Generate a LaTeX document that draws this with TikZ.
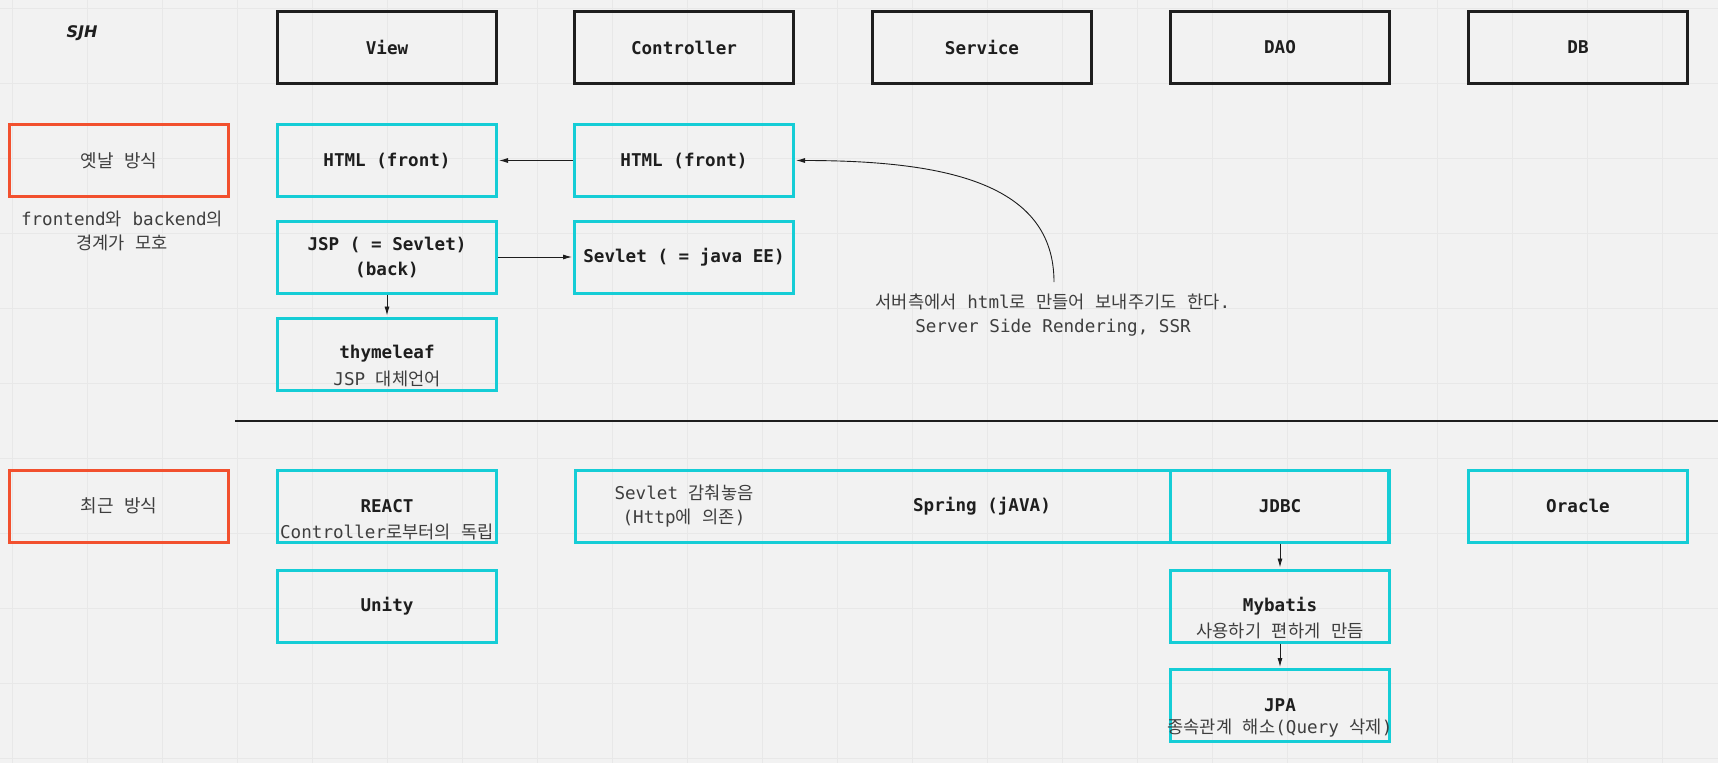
\documentclass[tikz,border=0pt]{standalone}
\usepackage{fontspec}
\setmainfont{DejaVu Sans Mono}
\newfontfamily\krfont{Noto Sans CJK KR}
\newfontfamily\sjhfont{DejaVu Sans}
\usetikzlibrary{arrows.meta}
\newcommand\kr[1]{{\krfont #1}}
\definecolor{bg}{RGB}{242,242,242}
\definecolor{gridc}{RGB}{232,232,232}
\definecolor{cyanb}{RGB}{21,205,214}
\definecolor{redb}{RGB}{242,80,46}
\definecolor{ink}{RGB}{30,30,30}
\definecolor{txt}{RGB}{62,62,62}
\begin{document}
\begin{tikzpicture}[x=1pt,y=-1pt,
  hdr/.style={draw=ink, line width=3pt, minimum width=219pt, minimum height=72pt, inner sep=0pt, font=\fontsize{17.6}{20}\selectfont\bfseries, text=ink},
  cbox/.style={draw=cyanb, line width=3pt, minimum width=219pt, minimum height=72pt, inner sep=0pt, align=center, font=\fontsize{17.6}{25}\selectfont\bfseries, text=ink},
  rbox/.style={draw=redb, line width=3pt, minimum width=219pt, minimum height=72pt, inner sep=0pt, font=\fontsize{18}{20}\selectfont, text=txt},
  sub/.style={font=\fontsize{17.6}{24}\selectfont, text=txt, inner sep=0pt, align=center},
  arr/.style={-{Latex[length=9pt,width=5pt]}, line width=0.9pt, draw=ink, shorten >=1pt}
]
\useasboundingbox (0,0) rectangle (1718,763);
\fill[bg] (0,0) rectangle (1718,763);
\foreach \x in {12,87,...,1712} \draw[gridc, line width=1pt] (\x,0) -- (\x,763);
\foreach \y in {8,83,...,758} \draw[gridc, line width=1pt] (0,\y) -- (1718,\y);

% signature
\node[font=\sjhfont\fontsize{16}{18}\selectfont\bfseries\itshape, text=ink] (sjh) at (82,33) {SJH};

% headers
\node[hdr] (hView) at (387,47.5) {View};
\node[hdr] (hCtrl) at (684,47.5) {Controller};
\node[hdr] (hSvc)  at (982,47.5) {Service};
\node[hdr] (hDao)  at (1280,47.5) {DAO};
\node[hdr] (hDb)   at (1578,47.5) {DB};

% old way
\node[rbox] (old) at (119,160.5) {\kr{옛날} \kr{방식}};
\node[sub] (oldnote) at (122,231) {frontend\kr{와} backend\kr{의}\\\kr{경계가} \kr{모호}};

\node[cbox] (viewA) at (387,160.5) {HTML (front)};
\node[cbox] (ctrlA) at (684,160.5) {HTML (front)};
\node[cbox] (jsp)   at (387,257) {JSP ( = Sevlet)\\(back)};
\node[cbox] (sev)   at (684,257) {Sevlet ( = java EE)};
\node[cbox] (thym)  at (387,354) {thymeleaf};
\node[sub] (thymsub) at (387,379) {JSP \kr{대체언어}};

\draw[arr] (ctrlA) -- (viewA);
\draw[arr] (jsp) -- (sev);
\draw[arr] (jsp) -- (thym);

\coordinate (ssr) at (1054,282);
\draw[arr] (ssr) .. controls (1054,185) and (950,160.5) .. (ctrlA.east);
\node[sub] (ssrtxt) at (1053,315.5) {\kr{서버측에서} html\kr{로} \kr{만들어} \kr{보내주기도} \kr{한다}.\\Server Side Rendering, SSR};

% divider
\coordinate (divL) at (235,421);
\coordinate (divR) at (1718,421);
\draw[ink, line width=1.8pt] (divL) -- (divR);

% new way
\node[rbox] (new) at (119,506) {\kr{최근} \kr{방식}};
\node[cbox] (react) at (387,506) {REACT};
\node[sub] (reactsub) at (387,532) {Controller\kr{로부터의} \kr{독립}};
\node[cbox] (unity) at (387,606) {Unity};

\node[cbox, minimum width=813pt] (spring) at (982,506) {Spring (jAVA)};
\node[sub] (springnote) at (684,506) {Sevlet \kr{감춰놓음}\\(Http\kr{에} \kr{의존})};
\node[cbox] (jdbc) at (1280,506) {JDBC};
\node[cbox] (oracle) at (1578,506) {Oracle};

\node[cbox] (mybatis) at (1280,606) {Mybatis};
\node[sub] (mybsub) at (1280,631) {\kr{사용하기} \kr{편하게} \kr{만듬}};
\node[cbox] (jpa) at (1280,705.5) {JPA};
\node[sub] (jpasub) at (1280,728) {\kr{종속관계} \kr{해소}(Query \kr{삭제})};

\draw[arr] (jdbc) -- (mybatis);
\draw[arr] (mybatis) -- (jpa);
\end{tikzpicture}
\end{document}
